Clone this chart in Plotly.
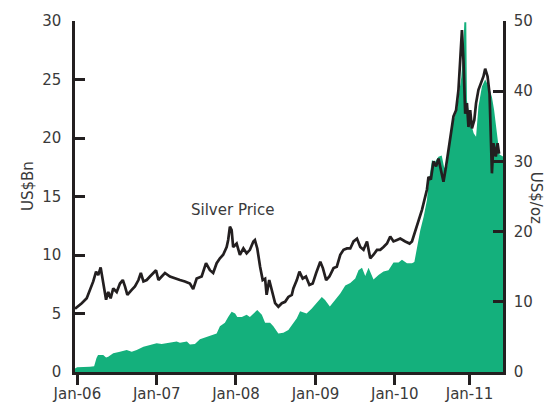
import plotly.graph_objects as go

# ---------------- data ----------------
silver_dates = [
    "2005-12-21", "2005-12-29", "2006-01-21", "2006-02-13", "2006-02-28", "2006-03-15", "2006-03-28",
    "2006-04-07", "2006-04-18", "2006-04-30", "2006-05-13", "2006-05-23", "2006-06-03", "2006-06-15",
    "2006-07-01", "2006-07-16", "2006-07-29", "2006-08-08", "2006-08-19", "2006-09-08", "2006-09-23",
    "2006-10-09", "2006-10-20", "2006-11-01", "2006-11-16", "2006-12-01", "2006-12-17", "2006-12-29",
    "2007-01-09", "2007-01-24", "2007-02-08", "2007-03-03", "2007-03-26", "2007-04-18", "2007-05-11",
    "2007-06-03", "2007-06-18", "2007-07-04", "2007-07-27", "2007-08-16", "2007-09-03", "2007-09-18",
    "2007-10-04", "2007-10-19", "2007-11-03", "2007-11-19", "2007-11-26", "2007-12-04", "2007-12-12",
    "2007-12-19", "2008-01-04", "2008-01-19", "2008-02-04", "2008-02-19", "2008-03-05", "2008-03-21",
    "2008-03-28", "2008-04-08", "2008-04-21", "2008-05-03", "2008-05-14", "2008-05-21", "2008-06-02",
    "2008-06-13", "2008-06-29", "2008-07-14", "2008-07-30", "2008-08-14", "2008-08-29", "2008-09-14",
    "2008-09-21", "2008-10-07", "2008-10-19", "2008-11-03", "2008-11-18", "2008-12-04", "2008-12-19",
    "2009-01-04", "2009-01-23", "2009-02-04", "2009-02-19", "2009-03-06", "2009-03-25", "2009-04-09",
    "2009-04-25", "2009-05-10", "2009-05-26", "2009-06-10", "2009-06-25", "2009-07-11", "2009-07-26",
    "2009-08-10", "2009-08-26", "2009-09-10", "2009-09-25", "2009-10-11", "2009-10-26", "2009-11-10",
    "2009-11-26", "2009-12-11", "2009-12-26", "2010-01-11", "2010-01-26", "2010-02-18", "2010-03-10",
    "2010-03-21", "2010-04-13", "2010-05-06", "2010-05-29", "2010-06-05", "2010-06-16", "2010-06-28",
    "2010-07-10", "2010-07-21", "2010-08-01", "2010-08-13", "2010-08-25", "2010-09-05", "2010-09-16",
    "2010-09-28", "2010-10-10", "2010-10-21", "2010-10-29", "2010-11-06", "2010-11-13", "2010-11-21",
    "2010-11-29", "2010-12-06", "2010-12-14", "2010-12-22", "2011-01-02", "2011-01-10", "2011-01-21",
    "2011-02-01", "2011-02-13", "2011-02-21", "2011-03-04", "2011-03-13", "2011-03-19", "2011-03-24",
    "2011-03-31", "2011-04-11", "2011-04-19", "2011-04-26",
]
silver_price = [
    9.0, 9.2, 9.8, 10.5, 11.7, 12.9, 14.3,
    13.8, 14.9, 12.6, 10.3, 11.4, 10.5, 11.9,
    11.4, 12.6, 13.1, 12.2, 11.0, 11.7, 12.2,
    13.1, 14.1, 12.9, 13.1, 13.6, 14.1, 14.5,
    13.1, 13.6, 14.1, 13.6, 13.3, 13.1, 12.9,
    12.6, 11.8, 13.3, 13.6, 15.5, 14.5, 14.1,
    15.5, 16.2, 16.7, 17.8, 18.8, 20.7, 20.2,
    17.8, 18.3, 16.7, 17.6, 16.9, 17.4, 18.6,
    18.8, 17.6, 15.0, 13.1, 13.3, 11.0, 13.1,
    11.7, 9.8, 9.3, 9.8, 10.0, 10.7, 11.0,
    11.9, 13.1, 14.3, 13.3, 13.6, 12.4, 12.6,
    14.1, 15.7, 14.8, 13.1, 13.6, 14.8, 15.0,
    16.7, 17.4, 17.6, 17.6, 18.6, 19.0, 17.8,
    17.4, 18.6, 16.2, 16.7, 17.4, 17.4, 17.8,
    18.3, 19.3, 18.6, 18.8, 19.0, 18.6, 18.3,
    18.6, 20.7, 23.1, 26.0, 27.8, 27.4, 30.0,
    29.3, 30.4, 28.8, 27.1, 29.3, 31.6, 34.0,
    36.4, 37.3, 40.2, 44.4, 48.7, 44.4, 36.8,
    38.3, 34.9, 37.3, 34.7, 35.9, 38.3, 40.2,
    41.1, 42.1, 43.2, 42.1, 39.7, 33.5, 28.3,
    32.6, 30.7, 32.6, 31.1,
]

holdings_dates = [
    "2005-12-21", "2005-12-31", "2006-02-28", "2006-03-19", "2006-03-30", "2006-04-06", "2006-04-30",
    "2006-05-13", "2006-05-23", "2006-06-15", "2006-07-16", "2006-08-16", "2006-09-08", "2006-10-01",
    "2006-11-01", "2006-12-01", "2007-01-01", "2007-01-24", "2007-02-24", "2007-04-03", "2007-04-18",
    "2007-05-20", "2007-06-03", "2007-06-26", "2007-07-19", "2007-08-19", "2007-09-03", "2007-10-04",
    "2007-10-19", "2007-11-11", "2007-11-26", "2007-12-12", "2007-12-28", "2008-01-07", "2008-01-28",
    "2008-02-19", "2008-03-05", "2008-03-21", "2008-04-08", "2008-04-29", "2008-05-14", "2008-06-06",
    "2008-06-21", "2008-07-14", "2008-08-06", "2008-08-29", "2008-09-21", "2008-10-07", "2008-10-22",
    "2008-11-06", "2008-11-21", "2008-12-14", "2009-01-07", "2009-01-30", "2009-02-14", "2009-03-08",
    "2009-04-01", "2009-04-25", "2009-05-18", "2009-06-10", "2009-07-03", "2009-07-18", "2009-08-03",
    "2009-08-18", "2009-09-02", "2009-09-25", "2009-10-18", "2009-11-10", "2009-12-03", "2009-12-26",
    "2010-01-18", "2010-02-03", "2010-02-26", "2010-03-21", "2010-04-01", "2010-04-13", "2010-04-28",
    "2010-05-14", "2010-05-29", "2010-06-05", "2010-06-21", "2010-07-06", "2010-07-21", "2010-08-05",
    "2010-08-16", "2010-08-28", "2010-09-12", "2010-09-28", "2010-10-14", "2010-10-26", "2010-11-03",
    "2010-11-11", "2010-11-17", "2010-11-26", "2010-11-29", "2010-12-14", "2010-12-30", "2011-01-10",
    "2011-01-21", "2011-02-06", "2011-02-21", "2011-03-09", "2011-03-24", "2011-04-03", "2011-04-16",
    "2011-04-28", "2011-05-15",
]
holdings_bn = [
    0.3, 0.4, 0.45, 0.5, 1.2, 1.45, 1.45,
    1.25, 1.3, 1.6, 1.74, 1.88, 1.74, 1.88,
    2.16, 2.3, 2.45, 2.4, 2.5, 2.6, 2.5,
    2.6, 2.35, 2.4, 2.8, 3.0, 3.16, 3.3,
    3.9, 4.2, 4.7, 5.15, 5.0, 4.7, 4.7,
    4.9, 4.7, 5.0, 5.3, 4.9, 4.2, 4.2,
    3.9, 3.3, 3.35, 3.6, 4.2, 4.6, 5.2,
    5.1, 5.0, 5.4, 5.9, 6.4, 6.15, 5.6,
    6.15, 6.7, 7.4, 7.6, 8.0, 8.7, 8.9,
    8.2, 8.9, 7.9, 8.3, 8.6, 8.7, 9.35,
    9.35, 9.6, 9.3, 9.3, 9.4, 10.7, 12.1,
    13.3, 14.7, 16.1, 18.1, 18.0, 18.4, 18.5,
    17.5, 17.3, 19.8, 21.5, 22.4, 24.1, 25.2,
    27.2, 29.9, 29.9, 23.2, 21.5, 20.4, 20.1,
    22.7, 24.4, 25.0, 24.4, 23.5, 22.4, 20.5,
    18.6, 18.4,
]

x_tick_dates = ["2006-01-01", "2007-01-01", "2008-01-01", "2009-01-01", "2010-01-01", "2010-12-11"]
x_tick_labels = ["Jan-06", "Jan-07", "Jan-08", "Jan-09", "Jan-10", "Jan-11"]
left_ticks = [0, 5, 10, 15, 20, 25, 30]
right_ticks = [0, 10, 20, 30, 40, 50]

# ---------------- figure ----------------
INK = "#231f20"
TXT = "#3a3a3a"
GREEN = "#14b07c"
FONT = "DejaVu Sans"

fig = go.Figure()
fig.add_trace(go.Scatter(
    x=holdings_dates, y=holdings_bn, mode="lines", fill="tozeroy",
    line=dict(color=GREEN, width=0), fillcolor=GREEN, yaxis="y", showlegend=False,
))
fig.add_trace(go.Scatter(
    x=silver_dates, y=silver_price, mode="lines",
    line=dict(color=INK, width=2.7), yaxis="y2", showlegend=False,
))

axis_common = dict(showgrid=False, zeroline=False, showline=True, linecolor=INK,
                   tickcolor=INK, automargin=False,
                   tickfont=dict(family=FONT, size=15, color=TXT))

# the page body adds an 8px offset, so the margins compensate for it
fig.update_layout(
    width=553, height=403,
    margin=dict(l=67, r=58, t=13, b=39),
    paper_bgcolor="white", plot_bgcolor="white",
    font=dict(family=FONT, size=15, color=TXT),
    xaxis=dict(type="date", range=["2005-12-21", "2011-05-14"],
               tickvals=x_tick_dates, ticktext=x_tick_labels,
               ticks="outside", ticklen=10, tickwidth=2.5, linewidth=3,
               ticklabelstandoff=-4, **axis_common),
    yaxis=dict(range=[0, 30], tickvals=left_ticks, ticks="inside", ticklen=10,
               tickwidth=2.5, linewidth=2.5, ticklabelstandoff=8, **axis_common),
    yaxis2=dict(range=[0, 50], tickvals=right_ticks, overlaying="y", side="right",
                ticks="inside", ticklen=10, tickwidth=2.5, linewidth=2.5,
                ticklabelstandoff=5, **axis_common),
    annotations=[
        dict(text="US$Bn", xref="paper", yref="paper", x=-0.1355, y=0.53,
             textangle=-90, showarrow=False, font=dict(family=FONT, size=15, color=TXT)),
        dict(text="US$/oz", xref="paper", yref="paper", x=1.103, y=0.496,
             textangle=90, showarrow=False, font=dict(family=FONT, size=15, color=TXT)),
        dict(text="Silver Price", xref="paper", yref="paper", x=0.369, y=0.4615,
             showarrow=False, font=dict(family=FONT, size=15, color=TXT)),
    ],
)

fig.write_html("out.html")
